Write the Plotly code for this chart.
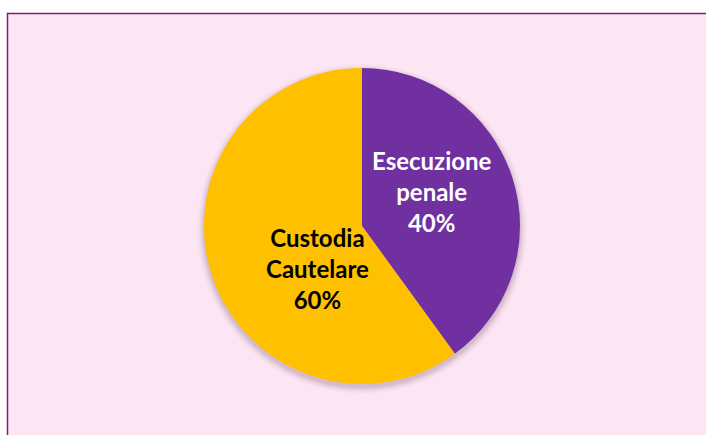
import plotly.graph_objects as go

labels = ["Esecuzione<br>penale", "Custodia<br>Cautelare"]
values = [40, 60]
colors = ["#7030A0", "#FFC000"]
text_colors = ["#FFFFFF", "#000000"]

W, H = 706, 435
CX, CY, R = 362, 226, 158  # pie centre/radius in pixels

def px(x):
    return x / W

def py(y):
    return 1 - y / H

fig = go.Figure(go.Pie(
    labels=labels, values=values, sort=False, direction="clockwise", rotation=0,
    marker=dict(colors=colors, line=dict(width=0)),
    textinfo="none",
    domain=dict(x=[px(CX - R), px(CX + R)], y=[py(CY + R), py(CY - R)]),
    showlegend=False, hoverinfo="label+percent",
))

# label positions (pixel centres) for each slice
label_pos = [(432, 191), (317, 268)]
total = sum(values)
annotations = []
for lab, v, c, (lx, ly) in zip(labels, values, text_colors, label_pos):
    annotations.append(dict(
        x=px(lx), y=py(ly), xref="paper", yref="paper", showarrow=False,
        text=f"<b>{lab}<br>{round(100 * v / total)}%</b>",
        font=dict(family="Lato, Carlito, sans-serif", size=24, color=c),
        align="center", xanchor="center", yanchor="middle",
    ))

shapes = [dict(type="rect", xref="paper", yref="paper", layer="below",
               x0=px(7.5), x1=1.05, y0=-0.05, y1=py(13.5),
               fillcolor="#FCE6F3", line=dict(color="#7E1E74", width=1.5))]
# soft shadow behind the pie
for i, op in enumerate([0.10, 0.07, 0.05, 0.035, 0.02]):
    rr = R + 1 + i * 1.5
    cy = CY + 3
    shapes.append(dict(type="circle", xref="paper", yref="paper", layer="below",
                       x0=px(CX - rr), x1=px(CX + rr), y0=py(cy + rr), y1=py(cy - rr),
                       fillcolor="#6a4060", opacity=op, line=dict(width=0)))

fig.update_layout(
    width=W, height=H, margin=dict(l=0, r=0, t=0, b=0),
    paper_bgcolor="white", plot_bgcolor="white",
    shapes=shapes, annotations=annotations,
)
fig.write_html("out.html", config={"displayModeBar": False},
               post_script="document.body.style.margin='0';")
